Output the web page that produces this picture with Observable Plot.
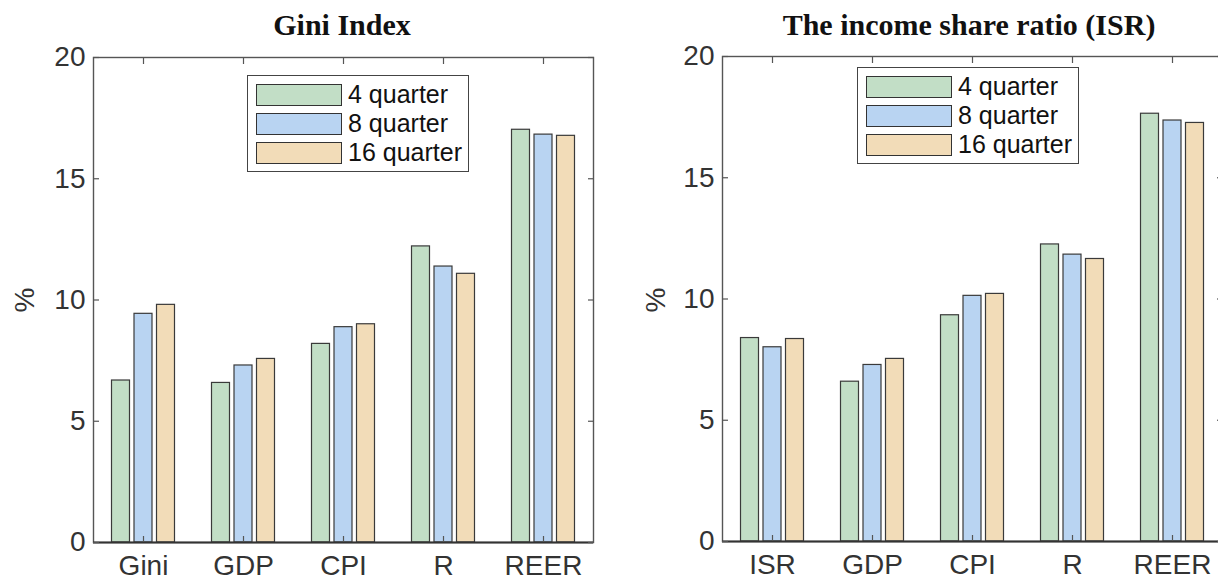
<!DOCTYPE html>
<html>
<head>
<meta charset="utf-8">
<script src="https://cdn.jsdelivr.net/npm/d3@7"></script>
<script src="https://cdn.jsdelivr.net/npm/@observablehq/plot@0.6"></script>
<style>
  html, body { margin: 0; padding: 0; background: #fff; width: 1218px; height: 579px; overflow: hidden; }
  .panel { position: absolute; top: 0; }
  .title { position: absolute; top: 7px; font-family: "Liberation Serif", "Times New Roman", serif; font-weight: bold; font-size: 30px; line-height: 36px; color: #111; white-space: nowrap; transform: translateX(-50%); }
  .ylab { position: absolute; font-family: "Liberation Sans", Arial, sans-serif; font-size: 28px; color: #333; transform: translate(-50%, -50%) rotate(-90deg); }
  .legend { position: absolute; border: 1.5px solid #444; background: #fff; padding: 4px 6px 4px 8px; font-family: "Liberation Sans", Arial, sans-serif; font-size: 25px; color: #111; }
  .legend .row { display: flex; align-items: center; height: 29px; }
  .legend .sw { width: 86px; height: 22px; border: 1.5px solid #333; margin-right: 6px; box-sizing: border-box; }
  svg { overflow: visible; }
</style>
</head>
<body>
<div id="root"></div>
<script>
// ---- data ----
const series = ["4 quarter", "8 quarter", "16 quarter"];
const seriesColors = ["#c2dec6", "#b9d4f2", "#f2dcb8"];

const giniCategories = ["Gini", "GDP", "CPI", "R", "REER"];
const gini4  = [6.68, 6.58, 8.19, 12.21, 17.02];
const gini8  = [9.43, 7.30, 8.88, 11.38, 16.82];
const gini16 = [9.80, 7.57, 9.00, 11.08, 16.77];

const isrCategories = ["ISR", "GDP", "CPI", "R", "REER"];
const isr4  = [8.39, 6.59, 9.33, 12.25, 17.64];
const isr8  = [8.01, 7.28, 10.13, 11.83, 17.36];
const isr16 = [8.35, 7.53, 10.21, 11.65, 17.26];

const yTicks = [0, 5, 10, 15, 20];

// ---- drawing ----
function makePanel({left, width, marginLeft, marginRight, marginTop, marginBottom, title, titleX, categories, values, legendLeft, legendTop, ylabX}) {
  const panel = document.createElement("div");
  panel.className = "panel";
  panel.style.left = left + "px";
  panel.style.width = width + "px";
  panel.style.height = "579px";

  const rows = [];
  categories.forEach((c, i) => {
    series.forEach((s, j) => rows.push({cat: c, series: s, value: values[j][i]}));
  });

  const offsets = [-22.5, 0, 22.5];
  const barMarks = series.map((s, j) =>
    Plot.barY(rows.filter(d => d.series === s), {
      x: "cat", y: "value", fill: seriesColors[j],
      stroke: "#3a3a3a", strokeWidth: 1.2,
      insetLeft: 41, insetRight: 41, dx: offsets[j]
    })
  );

  const tickFont = {fontSize: 28, fill: "#333", fontFamily: "Liberation Sans, Arial, sans-serif"};

  const chart = Plot.plot({
    width, height: 579,
    marginLeft, marginRight, marginTop, marginBottom,
    style: {fontFamily: "Liberation Sans, Arial, sans-serif", fontSize: "28px", color: "#333", background: "transparent"},
    x: {domain: categories, padding: 0, axis: null},
    y: {domain: [0, 20], axis: null},
    marks: [
      ...barMarks,
      Plot.frame({stroke: "#555", strokeWidth: 1.4}),
      Plot.ruleY([0], {stroke: "#333", strokeWidth: 2}),
      Plot.axisY({anchor: "left", ticks: yTicks, tickSize: -6, tickPadding: 14, stroke: "#555", strokeWidth: 1.2, label: null, ...tickFont}),
      Plot.axisY({anchor: "right", ticks: yTicks, tickSize: -6, tickFormat: () => "", stroke: "#555", strokeWidth: 1.2, label: null}),
      Plot.axisX({anchor: "top", tickSize: -6, tickFormat: () => "", stroke: "#555", strokeWidth: 1.2, label: null}),
      Plot.axisX({anchor: "bottom", tickSize: -6, tickPadding: 19, stroke: "#555", strokeWidth: 1.2, label: null, ...tickFont})
    ]
  });
  panel.appendChild(chart);

  const t = document.createElement("div");
  t.className = "title";
  t.style.left = titleX + "px";
  t.textContent = title;
  panel.appendChild(t);

  const yl = document.createElement("div");
  yl.className = "ylab";
  yl.style.left = ylabX + "px";
  yl.style.top = "300px";
  yl.textContent = "%";
  panel.appendChild(yl);

  const lg = document.createElement("div");
  lg.className = "legend";
  lg.style.left = legendLeft + "px";
  lg.style.top = legendTop + "px";
  series.forEach((s, j) => {
    const r = document.createElement("div");
    r.className = "row";
    const sw = document.createElement("div");
    sw.className = "sw";
    sw.style.background = seriesColors[j];
    const tx = document.createElement("span");
    tx.textContent = s;
    r.appendChild(sw); r.appendChild(tx);
    lg.appendChild(r);
  });
  panel.appendChild(lg);

  document.getElementById("root").appendChild(panel);
}

makePanel({
  left: 0, width: 609, marginLeft: 93, marginRight: 16, marginTop: 57, marginBottom: 37,
  title: "Gini Index", titleX: 342, categories: giniCategories,
  values: [gini4, gini8, gini16], legendLeft: 247, legendTop: 75, ylabX: 25
});
makePanel({
  left: 609, width: 613, marginLeft: 113, marginRight: 0, marginTop: 56, marginBottom: 38,
  title: "The income share ratio (ISR)", titleX: 360, categories: isrCategories,
  values: [isr4, isr8, isr16], legendLeft: 248, legendTop: 67, ylabX: 47
});
</script>
</body>
</html>
